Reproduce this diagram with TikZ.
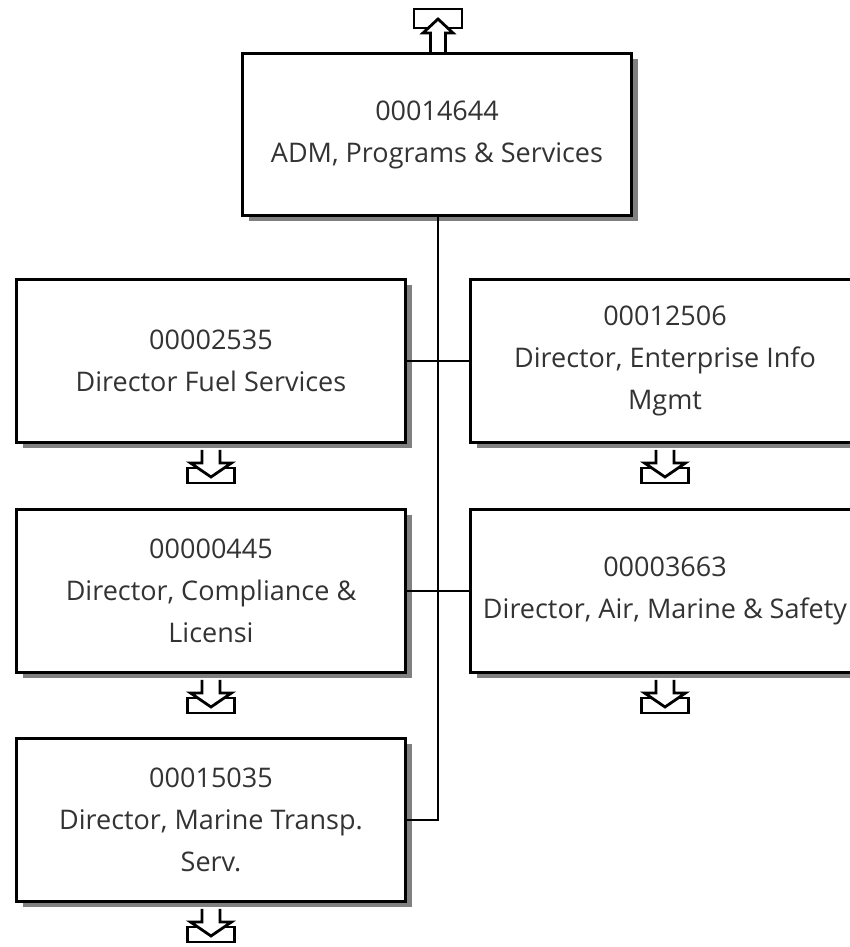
\documentclass[tikz,border=0pt]{standalone}
\usepackage{fontspec}
\setmainfont{Open Sans}
\usetikzlibrary{positioning,shadows,calc}
\tikzstyle{post} = [rectangle, draw=black, line width=3pt, fill=white, text=black!80, align=center, minimum width=389pt, minimum height=163pt, inner sep=2pt, font=\fontsize{27}{42}\selectfont, drop shadow={shadow xshift=6pt, shadow yshift=-6pt, fill=black!50, opacity=1}]
\tikzstyle{link} = [line width=2.5pt]
\tikzstyle{icon} = [line width=2.8pt, fill=white, line join=miter]
% hand icon under a box: tray with an arrow down into it
\newcommand{\downmark}[1]{%
  \draw [icon] (#1) ++(-23.5,-24) rectangle ++(47,-15);
  \draw [icon] (#1) ++(-9,-6) -- ++(0,-13) -- ++(-11.5,0) -- ++(20.5,-14) -- ++(20.5,14) -- ++(-11.5,0) -- ++(0,13);
}
% icon above the top box: tray with an arrow up into it
\newcommand{\upmark}[1]{%
  \draw [icon] (#1) ++(-24,24) rectangle ++(48,19);
  \draw [icon] (#1) ++(-7.5,0) -- ++(0,19) -- ++(-7.5,0) -- ++(15,14) -- ++(15,-14) -- ++(-7.5,0) -- ++(0,-19);
}

\begin{document}
\begin{tikzpicture}[x=1pt,y=1pt]
    \useasboundingbox (0,0) rectangle (850,947);

    \node (adm) [post, minimum height=162pt] at (437,812.5) {00014644\\ADM, Programs \& Services};
    \node (fuel) [post, below=61pt of adm, xshift=-226pt] {00002535\\Director Fuel Services};
    \node (comp) [post, below=64pt of fuel] {00000445\\Director, Compliance \&\\Licensi};
    \node (marine) [post, below=63pt of comp] {00015035\\Director, Marine Transp.\\Serv.};
    \node (info) [post, right=62pt of fuel] {00012506\\Director, Enterprise Info\\Mgmt};
    \node (air) [post, below=64pt of info] {00003663\\Director, Air, Marine \& Safety};

    \coordinate (bus) at ($(fuel.east)!0.5!(info.west)$);
    \draw [link] (adm.south -| bus) -- (bus |- marine.east) -- (marine.east);
    \draw [link] (fuel.east) -- (info.west);
    \draw [link] (comp.east) -- (air.west);

    \upmark{adm.north -| bus}
    \downmark{fuel.south}
    \downmark{comp.south}
    \downmark{marine.south}
    \downmark{info.south}
    \downmark{air.south}
\end{tikzpicture}
\end{document}
